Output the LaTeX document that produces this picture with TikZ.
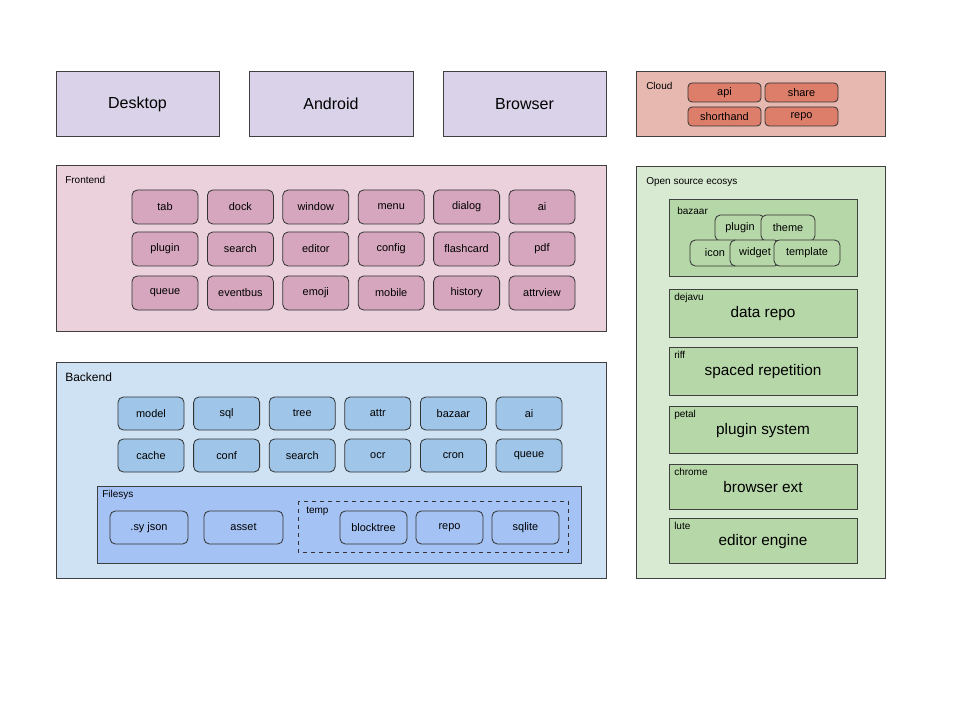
\documentclass[tikz,border=0pt]{standalone}
\usepackage{fontspec}
\setmainfont{Liberation Sans}
\begin{document}
\definecolor{purp}{HTML}{D9D2E9}
\definecolor{cloudbg}{HTML}{E6B8AF}
\definecolor{clouditem}{HTML}{DD7E6B}
\definecolor{frontbg}{HTML}{EAD1DC}
\definecolor{frontitem}{HTML}{D5A6BD}
\definecolor{backbg}{HTML}{CFE2F3}
\definecolor{backitem}{HTML}{9FC5E8}
\definecolor{fsbg}{HTML}{A4C2F4}
\definecolor{osbg}{HTML}{D9EAD3}
\definecolor{ositem}{HTML}{B6D7A8}
\begin{tikzpicture}[x=0.75pt,y=-0.75pt,
  box/.style={draw=black!75,line width=0.6pt},
  item/.style={draw=black!80,line width=0.6pt,rounded corners=4pt},
  lbl/.style={anchor=north west,inner sep=0pt,font=\fontsize{7.5pt}{9pt}\selectfont},
  itxt/.style={font=\fontsize{8.2pt}{10pt}\selectfont}]
\useasboundingbox (0,0) rectangle (960,720);
\fill[white] (0,0) rectangle (960,720);
% top row
\foreach \n/\a/\b/\t in {desk/56/219/Desktop,andr/249/413/Android/iOS,brow/443/606/Browser}{
  \draw[box,fill=purp] (\a,71) rectangle (\b,136);
  \node[font=\fontsize{12pt}{14pt}\selectfont] (\n) at ({(\a+\b)/2},104) {\t};}
% cloud
\draw[box,fill=cloudbg] (636,71) rectangle (885,136);
\node[lbl] (cloud) at (646,82) {Cloud};
\foreach \n/\a/\y/\t in {capi/688/83/api,cshare/765/83/share,cshort/688/107/shorthand,crepo/765/107/repo}{
  \draw[item,rounded corners=3pt,fill=clouditem] (\a,\y) rectangle ({\a+73},{\y+19});
  \node[itxt] (\n) at ({\a+36.5},{\y+9.5}) {\t};}
% frontend
\draw[box,fill=frontbg] (56,165) rectangle (606,331);
\node[lbl] (front) at (65,176) {Frontend};
\foreach \row/\y/\names in {1/190/{tab,dock,window,menu,dialog,ai},2/232/{plugin,search,editor,config,flashcard,pdf},3/276/{queue,eventbus,emoji,mobile,history,attrview}}{
  \foreach \t [count=\i] in \names {
    \pgfmathsetmacro\xa{132+(\i-1)*75.4}
    \draw[item,fill=frontitem] (\xa,\y) rectangle ({\xa+66},{\y+34});
    \node[itxt] (f\row-\i) at ({\xa+33},{\y+17}) {\t};}}
% backend
\draw[box,fill=backbg] (56,362) rectangle (606,578);
\node[lbl,font=\fontsize{9pt}{11pt}\selectfont] (back) at (65,373) {Backend};
\foreach \row/\y/\names in {1/397/{model,sql,tree,attr,bazaar,ai},2/439/{cache,conf,search,ocr,cron,queue}}{
  \foreach \t [count=\i] in \names {
    \pgfmathsetmacro\xa{118+(\i-1)*75.6}
    \draw[item,fill=backitem] (\xa,\y) rectangle ({\xa+66},{\y+33});
    \node[itxt] (b\row-\i) at ({\xa+33},{\y+16.5}) {\t};}}
\draw[box,fill=fsbg] (97,486) rectangle (581,563);
\node[lbl] (fs) at (102,490) {Filesys};
\draw[item,fill=fsbg] (110,511) rectangle (188,544); \node[itxt] (syj) at (149,527.5) {.sy json};
\draw[item,fill=fsbg] (204,511) rectangle (283,544); \node[itxt] (asset) at (243.5,527.5) {asset};
\draw[black!80,dashed,line width=0.6pt] (298,501) rectangle (568,552);
\node[lbl] (temp) at (306,507) {temp};
\foreach \n/\a/\t in {blk/340/blocktree,rep/416/repo,sql/492/sqlite}{
  \draw[item,fill=fsbg] (\a,511) rectangle ({\a+67},544);
  \node[itxt] (\n) at ({\a+33.5},527.5) {\t};}
% open source
\draw[box,fill=osbg] (636,166) rectangle (885,578);
\node[lbl] (os) at (646,177) {Open source ecosys};
\draw[box,fill=ositem] (669,199) rectangle (857,276);
\node[lbl] (baz) at (677,207) {bazaar};
\foreach \n/\a/\b/\y/\t in {bplug/715/765/215/plugin,btheme/761/815/215/theme,bicon/690/740/240/icon,bwid/730/780/240/widget,btemp/774/840/240/template}{
  \draw[item,fill=ositem] (\a,\y) rectangle (\b,{\y+26});
  \node[itxt] (\n) at ({(\a+\b)/2},{\y+13}) {\t};}
\foreach \n/\y/\h/\s/\t in {dej/289/48/dejavu/data repo,riff/347/48/riff/spaced repetition,pet/406/47/petal/plugin system,chr/464/45/chrome/browser ext,lute/518/45/lute/editor engine}{
  \draw[box,fill=ositem] (669,\y) rectangle (857,{\y+\h});
  \node[lbl] (\n l) at (674,{\y+4}) {\s};
  \node[font=\fontsize{11.5pt}{13pt}\selectfont] (\n) at (763,{\y+\h/2+1}) {\t};}
\end{tikzpicture}
\end{document}
